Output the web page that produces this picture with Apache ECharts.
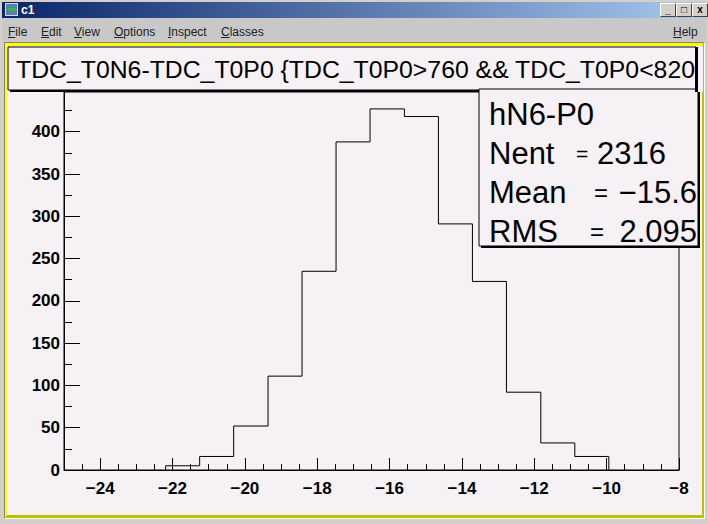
<!DOCTYPE html>
<html><head><meta charset="utf-8">
<script src="https://cdn.jsdelivr.net/npm/echarts@6/dist/echarts.min.js"></script>
<style>
html,body{margin:0;padding:0;width:708px;height:524px;overflow:hidden;background:#d4d0c8;font-family:"Liberation Sans",Arial,sans-serif;}
#titlebar{position:absolute;left:2px;top:2px;width:704px;height:16px;background:linear-gradient(to right,#0a246a,#a6caf0);}
#titlebar .name{position:absolute;left:19px;top:1px;color:#fff;font-weight:bold;font-size:12px;line-height:15px;}
#icon{position:absolute;left:3px;top:1px;width:13px;height:13px;background:#5a7fb0;border:1px solid #d0d8e8;box-sizing:border-box;}
#icon:after{content:"";position:absolute;left:2px;top:4px;width:7px;height:3px;background:#2fbf3f;}
.btn{position:absolute;top:1px;width:16px;height:14px;background:#d4d0c8;box-sizing:border-box;border:1px solid;border-color:#fff #404040 #404040 #fff;font-size:10px;font-weight:bold;line-height:11px;text-align:center;color:#000;}
#menubar{position:absolute;left:2px;top:18px;width:704px;height:23px;background:#c8c8c8;font-size:12px;color:#222;}
#menubar span{position:absolute;top:7px;}
#sunken{position:absolute;left:4px;top:42px;width:701px;height:477px;box-sizing:border-box;border:1px solid;border-color:#808080 #ffffff #ffffff #808080;}
#canvasbg{position:absolute;left:5px;top:43px;width:699px;height:475px;box-sizing:border-box;border-style:solid;border-width:3px 2px 3px 2px;border-color:#ffff00 #bfbf00 #bfbf00 #ffff00;background:#f5f1f5;}
#chart{position:absolute;left:0;top:0;width:708px;height:524px;}
</style>
</head>
<body>
<div id="titlebar"><div id="icon"></div><span class="name">c1</span>
  <div class="btn" style="left:658px;">_</div>
  <div class="btn" style="left:674px;">&#9633;</div>
  <div class="btn" style="left:690px;">x</div>
</div>
<div id="menubar">
  <span style="left:6px"><u>F</u>ile</span>
  <span style="left:39px"><u>E</u>dit</span>
  <span style="left:72px"><u>V</u>iew</span>
  <span style="left:112px"><u>O</u>ptions</span>
  <span style="left:166px"><u>I</u>nspect</span>
  <span style="left:219px"><u>C</u>lasses</span>
  <span style="left:671px"><u>H</u>elp</span>
</div>
<div id="sunken"></div>
<div id="canvasbg"></div>
<div id="chart"></div>
<script>
// ---- data ----
const histTitle = "TDC_T0N6-TDC_T0P0 {TDC_T0P0>760 && TDC_T0P0<820";
const histName = "hN6-P0";
const binEdges = [-22.19, -21.25, -20.31, -19.36, -18.42, -17.48, -16.54, -15.59, -14.65, -13.71, -12.77, -11.82, -10.88, -9.94];
const binCounts = [5, 16, 52, 111, 235, 388, 427, 418, 291, 223, 92, 32, 16];
const xMajorTicks = [-24, -22, -20, -18, -16, -14, -12, -10, -8];
const xMinorTicks = [-25, -24.5, -24, -23.5, -23, -22.5, -22, -21.5, -21, -20.5, -20, -19.5, -19, -18.5, -18, -17.5, -17, -16.5, -16, -15.5, -15, -14.5, -14, -13.5, -13, -12.5, -12, -11.5, -11, -10.5, -10, -9.5, -9, -8.5, -8];
const yMajorTicks = [0, 50, 100, 150, 200, 250, 300, 350, 400];
const yMinorTicks = [25, 75, 125, 175, 225, 275, 325, 375, 425];
const statsLabels = ["Nent", "Mean", "RMS"];
const statsValues = ["2316", "-15.6", "2.095"];

// outline of histogram built from edges and counts
const outline = [[binEdges[0], 0]];
for (let i = 0; i < binCounts.length; i++) {
  outline.push([binEdges[i], binCounts[i]]);
  outline.push([binEdges[i + 1], binCounts[i]]);
}
outline.push([binEdges[binEdges.length - 1], 0]);

const minus = v => String(v).replace('-', '\u2212');
const F = '"Liberation Sans", Arial, sans-serif';
const bg = '#f5f1f5';

const chart = echarts.init(document.getElementById('chart'), null, {renderer: 'svg'});
const gridPos = {left: 64, top: 92, right: 29, bottom: 54};

const statsBox = {x: 479, y: 89, w: 219, h: 157};
const statsRowY = [153, 192, 231];
const statsEqX = [576, 594, 590];
const statsEqSize = [21, 24, 24];
const statsValX = [597, 697, 697];
const statsValAlign = ['left', 'right', 'right'];

const graphics = [
  // title pave
  {type: 'rect', z: 100, shape: {x: 10, y: 49, width: 688, height: 43}, style: {fill: '#000'}},
  {type: 'rect', z: 101, shape: {x: 8, y: 47, width: 688, height: 43}, style: {fill: bg, stroke: '#000', lineWidth: 1}},
  {type: 'text', z: 102, x: 16, y: 69, style: {text: histTitle, font: '24.8px ' + F, fill: '#000', verticalAlign: 'middle'}},
  {type: 'rect', z: 103, shape: {x: 696, y: 46, width: 7, height: 46}, style: {fill: bg}},
  {type: 'rect', z: 104, shape: {x: 695, y: 47, width: 3, height: 45}, style: {fill: '#000'}},
  // stats pave
  {type: 'rect', z: 100, shape: {x: statsBox.x + 2, y: statsBox.y + 2, width: statsBox.w, height: statsBox.h}, style: {fill: '#000'}},
  {type: 'rect', z: 101, shape: {x: statsBox.x, y: statsBox.y, width: statsBox.w, height: statsBox.h}, style: {fill: bg, stroke: '#000', lineWidth: 1}},
  {type: 'text', z: 102, x: 489, y: 114, style: {text: histName, font: '31px ' + F, fill: '#000', verticalAlign: 'middle'}}
];
statsLabels.forEach((lab, i) => {
  graphics.push({type: 'text', z: 102, x: 489, y: statsRowY[i], style: {text: lab, font: '31px ' + F, fill: '#000', verticalAlign: 'middle'}});
  graphics.push({type: 'text', z: 102, x: statsEqX[i], y: statsRowY[i], style: {text: '=', font: statsEqSize[i] + 'px ' + F, fill: '#000', verticalAlign: 'middle'}});
  graphics.push({type: 'text', z: 102, x: statsValX[i], y: statsRowY[i], style: {text: minus(statsValues[i]), font: '31px ' + F, fill: '#000', verticalAlign: 'middle', align: statsValAlign[i]}});
});

chart.setOption({
  animation: false,
  backgroundColor: 'transparent',
  grid: Object.assign({show: true, borderColor: '#000', borderWidth: 1, backgroundColor: 'transparent'}, gridPos),
  xAxis: [
    {type: 'value', min: -25, max: -8, position: 'bottom',
     axisLine: {show: true, onZero: false, lineStyle: {color: '#000', width: 1}},
     splitLine: {show: false},
     axisTick: {show: true, inside: true, length: 12, customValues: xMajorTicks, lineStyle: {color: '#000'}},
     axisLabel: {show: true, customValues: xMajorTicks, margin: 10, formatter: minus, color: '#000', fontFamily: F, fontWeight: 'bold', fontSize: 17, showMinLabel: true, showMaxLabel: true}},
    {type: 'value', min: -25, max: -8, position: 'bottom',
     axisLine: {show: false, onZero: false},
     splitLine: {show: false},
     axisTick: {show: true, inside: true, length: 6, customValues: xMinorTicks, lineStyle: {color: '#000'}},
     axisLabel: {show: false}}
  ],
  yAxis: [
    {type: 'value', min: 0, max: 447, position: 'left',
     axisLine: {show: true, onZero: false, lineStyle: {color: '#000', width: 1}},
     splitLine: {show: false},
     axisTick: {show: true, inside: true, length: 16, customValues: yMajorTicks, lineStyle: {color: '#000'}},
     axisLabel: {show: true, customValues: yMajorTicks, margin: 4, color: '#000', fontFamily: F, fontWeight: 'bold', fontSize: 17}},
    {type: 'value', min: 0, max: 447, position: 'left',
     axisLine: {show: false, onZero: false},
     splitLine: {show: false},
     axisTick: {show: true, inside: true, length: 8, customValues: yMinorTicks, lineStyle: {color: '#000'}},
     axisLabel: {show: false}}
  ],
  series: [{
    type: 'line', name: histName, xAxisIndex: 0, yAxisIndex: 0,
    data: outline, symbol: 'none', clip: true,
    lineStyle: {color: '#000', width: 1}
  }],
  graphic: graphics
});
</script>
</body></html>
